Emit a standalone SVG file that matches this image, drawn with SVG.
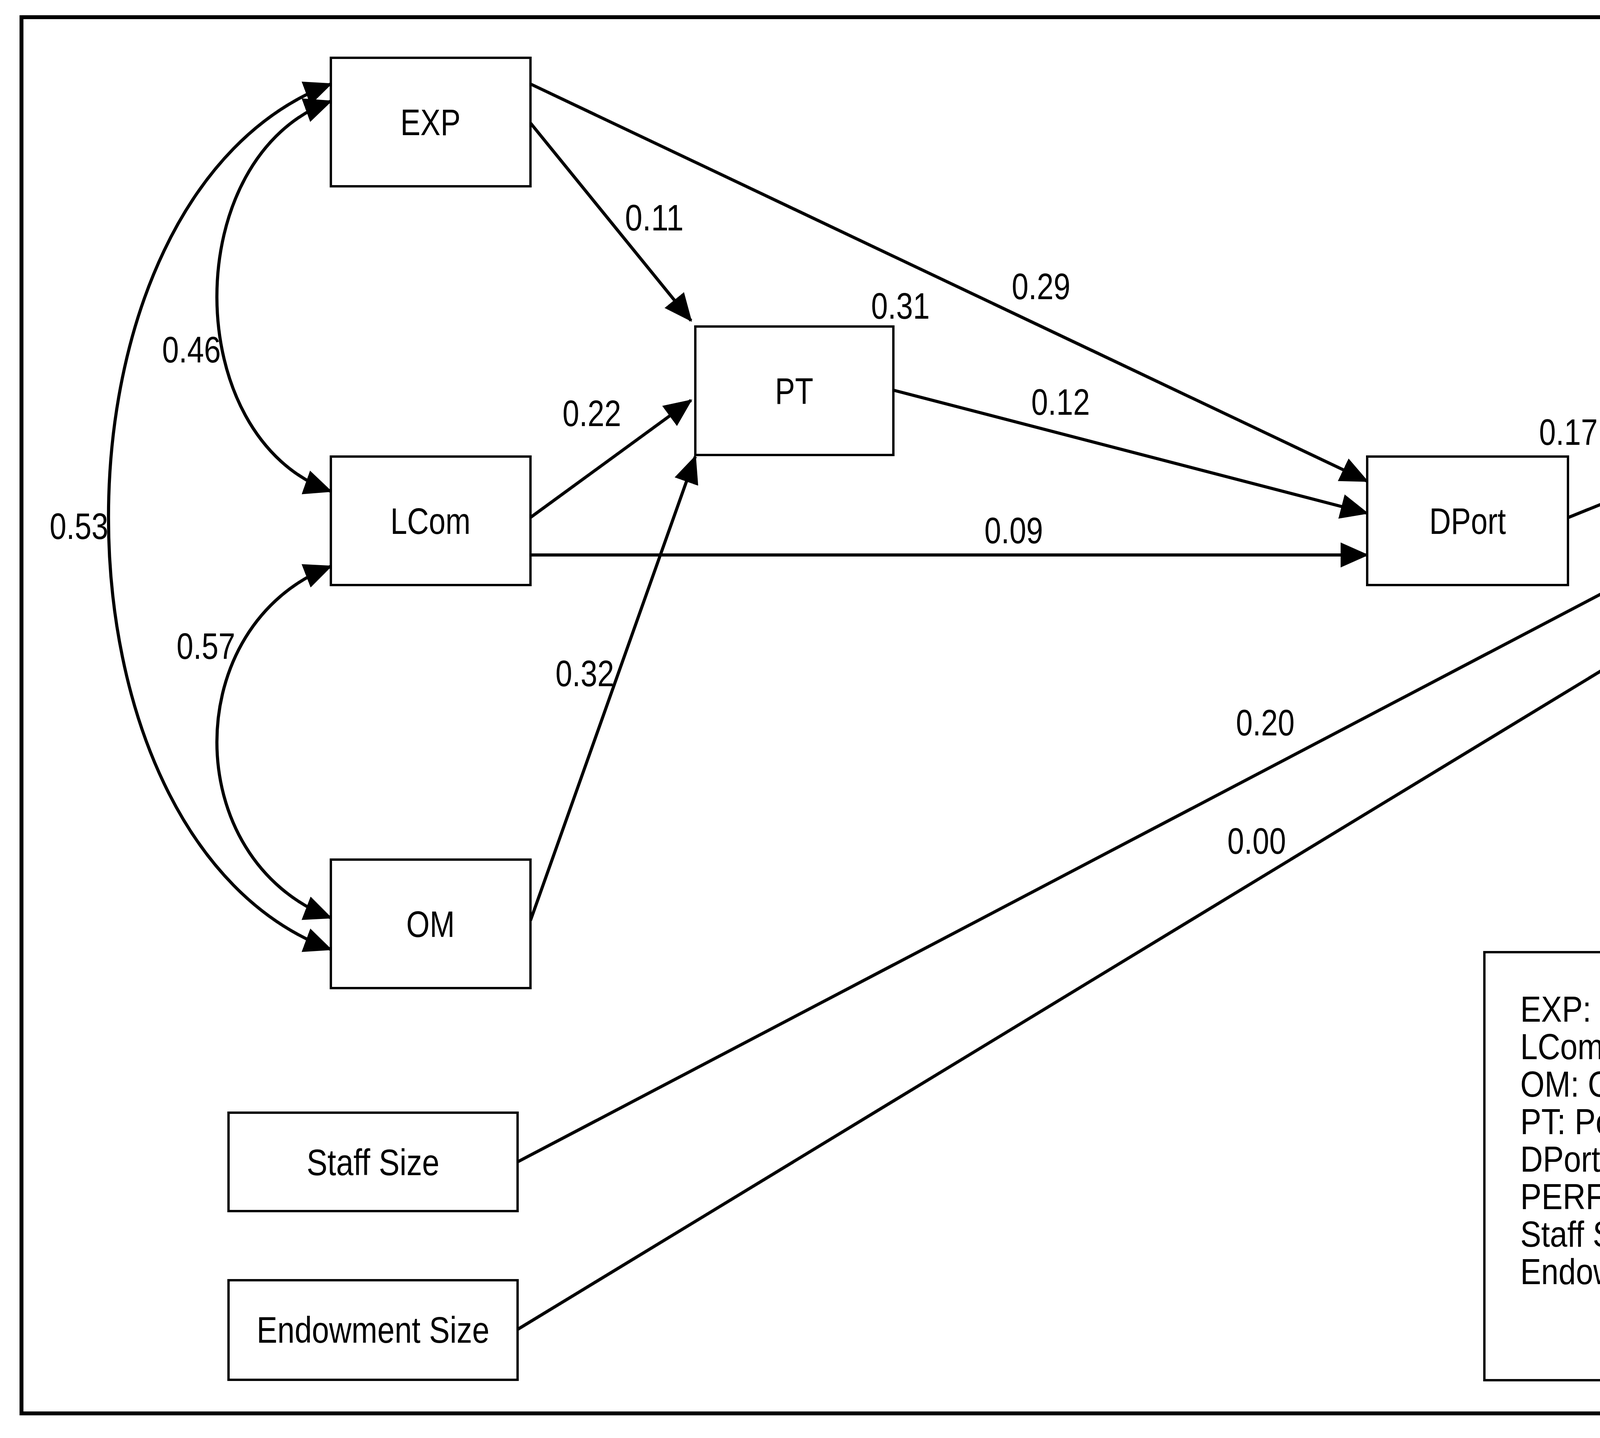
<svg xmlns="http://www.w3.org/2000/svg" width="5803" height="3682" viewBox="0 0 5803 3682">
<style>
.b{fill:#fff;stroke:#000;stroke-width:6}
.t{font-family:"Liberation Sans",Arial,sans-serif;font-size:94px;fill:#000}
.c{text-anchor:middle}
.l{stroke:#000;stroke-width:8;fill:none;marker-end:url(#a)}
.d{stroke:#000;stroke-width:8;fill:none;marker-end:url(#a);marker-start:url(#s)}
.g{font-family:"Liberation Sans",Arial,sans-serif;font-size:92px;fill:#000}
</style>
<defs>
<marker id="a" markerWidth="9" markerHeight="8" refX="8.5" refY="4" orient="auto" markerUnits="strokeWidth"><path d="M0,0 L9,4 L0,8 Z"/></marker>
<marker id="s" markerWidth="9" markerHeight="8" refX="0.5" refY="4" orient="auto" markerUnits="strokeWidth"><path d="M9,0 L0,4 L9,8 Z"/></marker>
</defs>
<rect x="0" y="0" width="5803" height="3682" fill="#fff"/>
<rect x="55" y="44" width="5687" height="3575" fill="none" stroke="#000" stroke-width="10"/>
<g id="connectors">
<path class="d" d="M847,259 C458,400 458,1120 847,1258"/>
<path class="d" d="M847,1450 C458,1600 458,2200 847,2350"/>
<path class="d" d="M847,215 C88,500 88,2150 847,2431"/>
<line class="l" x1="1358" y1="315" x2="1769" y2="821"/>
<line class="l" x1="1358" y1="215" x2="3500" y2="1232"/>
<line class="l" x1="1358" y1="1325" x2="1769" y2="1025"/>
<line class="l" x1="1358" y1="2357" x2="1780" y2="1169"/>
<line class="l" x1="1358" y1="1421" x2="3500" y2="1421"/>
<line class="l" x1="2287" y1="999" x2="3500" y2="1314"/>
<line class="l" x1="4015" y1="1325" x2="4877" y2="977"/>
<line class="l" x1="1325" y1="2975" x2="5136" y2="977"/>
<line class="l" x1="1325" y1="3404" x2="5317" y2="977"/>
<g class="t">
<text x="1600" y="590" textLength="150" lengthAdjust="spacingAndGlyphs">0.11</text>
<text x="2590" y="766" textLength="150" lengthAdjust="spacingAndGlyphs">0.29</text>
<text x="2230" y="816" textLength="150" lengthAdjust="spacingAndGlyphs">0.31</text>
<text x="1440" y="1091" textLength="150" lengthAdjust="spacingAndGlyphs">0.22</text>
<text x="2640" y="1062" textLength="150" lengthAdjust="spacingAndGlyphs">0.12</text>
<text x="2520" y="1391" textLength="150" lengthAdjust="spacingAndGlyphs">0.09</text>
<text x="3940" y="1139" textLength="150" lengthAdjust="spacingAndGlyphs">0.17</text>
<text x="4410" y="1025" textLength="150" lengthAdjust="spacingAndGlyphs">0.29</text>
<text x="5303" y="633" textLength="150" lengthAdjust="spacingAndGlyphs">0.13</text>
<text x="415" y="928" textLength="150" lengthAdjust="spacingAndGlyphs">0.46</text>
<text x="127" y="1380" textLength="150" lengthAdjust="spacingAndGlyphs">0.53</text>
<text x="452" y="1687" textLength="150" lengthAdjust="spacingAndGlyphs">0.57</text>
<text x="1422" y="1757" textLength="150" lengthAdjust="spacingAndGlyphs">0.32</text>
<text x="3164" y="1883" textLength="150" lengthAdjust="spacingAndGlyphs">0.20</text>
<text x="3142" y="2186" textLength="150" lengthAdjust="spacingAndGlyphs">0.00</text>
</g>
</g>
<g id="EXP"><rect class="b" x="847" y="148" width="511" height="329"/><text class="t c" x="1102" y="346" textLength="154" lengthAdjust="spacingAndGlyphs">EXP</text></g>
<g id="LCom"><rect class="b" x="847" y="1169" width="511" height="329"/><text class="t c" x="1102" y="1367" textLength="205" lengthAdjust="spacingAndGlyphs">LCom</text></g>
<g id="OM"><rect class="b" x="847" y="2201" width="511" height="329"/><text class="t c" x="1102" y="2399" textLength="124" lengthAdjust="spacingAndGlyphs">OM</text></g>
<g id="PT"><rect class="b" x="1780" y="836" width="507" height="329"/><text class="t c" x="2033" y="1034" textLength="98" lengthAdjust="spacingAndGlyphs">PT</text></g>
<g id="DPort"><rect class="b" x="3500" y="1169" width="514" height="329"/><text class="t c" x="3757" y="1367" textLength="196" lengthAdjust="spacingAndGlyphs">DPort</text></g>
<g id="PERF"><rect class="b" x="4877" y="651" width="514" height="326"/><text class="t c" x="5134" y="846" textLength="205" lengthAdjust="spacingAndGlyphs">PERF</text></g>
<g id="StaffSize"><rect class="b" x="585" y="2849" width="740" height="252"/><text class="t c" x="955" y="3009" textLength="340" lengthAdjust="spacingAndGlyphs">Staff Size</text></g>
<g id="EndowmentSize"><rect class="b" x="585" y="3278" width="740" height="255"/><text class="t c" x="955" y="3438" textLength="596" lengthAdjust="spacingAndGlyphs">Endowment Size</text></g>
<g id="legend"><rect class="b" x="3800" y="2438" width="1872" height="1096"/>
<g class="g">
<text x="3892" y="2616" textLength="829" lengthAdjust="spacingAndGlyphs">EXP: Diverse Expertise</text>
<text x="3892" y="2712" textLength="1043" lengthAdjust="spacingAndGlyphs">LCom: Learning Commitment</text>
<text x="3892" y="2808" textLength="825" lengthAdjust="spacingAndGlyphs">OM: Open-Mindedness</text>
<text x="3892" y="2904" textLength="1132" lengthAdjust="spacingAndGlyphs">PT: Portfolio Theory Framework</text>
<text x="3892" y="3000" textLength="1151" lengthAdjust="spacingAndGlyphs">DPort: Diversification of Portfolio</text>
<text x="3892" y="3096" textLength="1550" lengthAdjust="spacingAndGlyphs">PERF: Performance Relative to  Size Peers</text>
<text x="3892" y="3192" textLength="1676" lengthAdjust="spacingAndGlyphs">Staff Size: Number of Investment Professionals</text>
<text x="3892" y="3288" textLength="1565" lengthAdjust="spacingAndGlyphs">Endow Size: Portfolio Size as of Fiscal 2009</text>
</g></g>
</svg>
